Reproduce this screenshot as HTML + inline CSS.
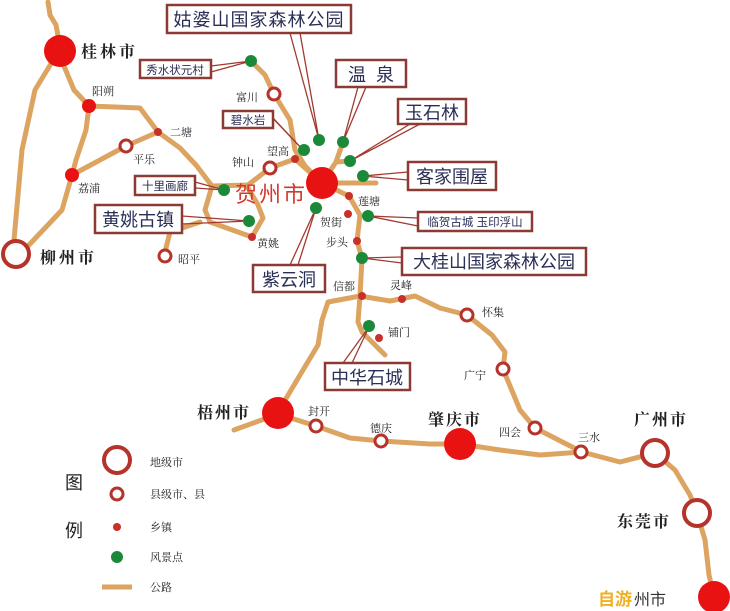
<!DOCTYPE html>
<html><head><meta charset="utf-8"><style>
html,body{margin:0;padding:0;background:#fff;}
svg{display:block;font-family:"Liberation Sans","Noto Sans CJK SC",sans-serif;}
.rd{fill:none;stroke:#dca460;stroke-width:5;stroke-linecap:round;stroke-linejoin:round;}
.ld{fill:none;stroke:#a33a30;stroke-width:1.3;}
.box{fill:#fff;stroke:#8c3a34;stroke-width:2.5;}
.bt{fill:#2a2f55;}
.sm{font-size:11px;fill:#222;font-family:"Noto Serif CJK SC","Noto Sans CJK SC",serif;}
.ring{fill:#fff;stroke:#b5332b;}
.red{fill:#e81212;}
.dot{fill:#c8302a;}
.g{fill:#1a8a3a;}
</style></head><body>
<svg width="730" height="611" viewBox="0 0 730 611" xmlns="http://www.w3.org/2000/svg">
<!-- roads -->
<path class="rd" d="M48,2 L50,15 L56,25 L58,36"/>
<path class="rd" d="M52,62 L35,90 L22,150 L14,240"/>
<path class="rd" d="M64,66 L74,90 L89,106 L140,108 L158,132 L180,148 L196,165 L212,186 L248,185 L270,168 L295,159 L322,183"/>
<path class="rd" d="M89,106 L86,130 L76,160 L72,175 L62,210 L28,246"/>
<path class="rd" d="M72,175 L100,160 L126,146 L158,132"/>
<path class="rd" d="M212,186 L205,210 L210,222 L252,237"/>
<path class="rd" d="M165,252 L170,232 L200,222"/>
<path class="rd" d="M248,188 L258,205 L263,218 L252,237"/>
<path class="rd" d="M251,61 L265,75 L274,94 L290,120 L295,150 L305,166 L322,183"/>
<path class="rd" d="M322,183 L336,162 L343,142"/>
<path class="rd" d="M336,162 L350,161"/>
<path class="rd" d="M322,183 L376,183"/>
<path class="rd" d="M322,183 L349,196 L360,215 L357,241 L362,258 L360,296 L358,322 L362,332 L385,355"/>
<path class="rd" d="M360,296 L328,302 L322,320 L318,345 L300,375 L278,412"/>
<path class="rd" d="M360,296 L390,301 L415,296 L440,308 L467,315 L492,335 L505,352 L503,369 L520,410 L535,428 L582,452"/>
<path class="rd" d="M234,430 L278,414 L316,426 L350,438 L381,441 L430,444 L460,444 L500,450 L540,455 L582,452 L620,462 L655,453 L675,470 L690,495 L697,513 L705,540 L709,575 L714,597"/>
<!-- leader lines -->
<g class="ld">
<path d="M211,66 L251,61 M211,72 L251,61"/>
<path d="M265,110 L304,151 M273,118 L304,151"/>
<path d="M195,182 L224,190 M195,188 L224,190"/>
<path d="M182,216 L249,221 M182,224 L249,221"/>
<path d="M290,33 L319,140 M300,33 L319,140"/>
<path d="M358,87 L343,142 M366,87 L343,142"/>
<path d="M410,124 L350,161 M420,124 L350,161"/>
<path d="M408,172 L363,176 M408,180 L363,176"/>
<path d="M418,218 L368,216 M418,226 L368,216"/>
<path d="M402,257 L362,258 M402,263 L362,258"/>
<path d="M290,265 L316,208 M298,265 L316,208"/>
<path d="M343,363 L369,327 M352,363 L369,327"/>
</g>
<!-- boxes -->
<rect class="box" x="167" y="5" width="184" height="28"/><text class="bt" x="259" y="26" font-size="18" text-anchor="middle" letter-spacing="1">姑婆山国家森林公园</text>
<rect class="box" x="336" y="60" width="70" height="27"/><text class="bt" x="371" y="81" font-size="18" text-anchor="middle" xml:space="preserve">温  泉</text>
<rect class="box" x="398" y="99" width="68" height="25"/><text class="bt" x="432" y="119" font-size="18" text-anchor="middle">玉石林</text>
<rect class="box" x="408" y="162" width="88" height="28"/><text class="bt" x="452" y="183" font-size="18" text-anchor="middle">客家围屋</text>
<rect class="box" x="418" y="212" width="114" height="19"/><text class="bt" x="475" y="226" font-size="11.5" text-anchor="middle">临贺古城 玉印浮山</text>
<rect class="box" x="402" y="248" width="184" height="27"/><text class="bt" x="494" y="268" font-size="18" text-anchor="middle">大桂山国家森林公园</text>
<rect class="box" x="253" y="265" width="72" height="27"/><text class="bt" x="289" y="286" font-size="18" text-anchor="middle">紫云洞</text>
<rect class="box" x="325" y="363" width="85" height="27"/><text class="bt" x="367" y="384" font-size="18" text-anchor="middle">中华石城</text>
<rect class="box" x="95" y="205" width="87" height="28"/><text class="bt" x="138" y="226" font-size="18" text-anchor="middle">黄姚古镇</text>
<rect class="box" x="135" y="176" width="60" height="19"/><text class="bt" x="165" y="190" font-size="11.5" text-anchor="middle">十里画廊</text>
<rect class="box" x="140" y="60" width="71" height="18"/><text class="bt" x="175" y="74" font-size="11.5" text-anchor="middle">秀水状元村</text>
<rect class="box" x="223" y="111" width="50" height="17"/><text class="bt" x="248" y="124" font-size="11.5" text-anchor="middle">碧水岩</text>
<!-- cities -->
<circle class="red" cx="60" cy="51" r="16"/>
<circle class="red" cx="322" cy="183" r="16"/>
<circle class="red" cx="278" cy="413" r="16"/>
<circle class="red" cx="460" cy="444" r="16"/>
<circle class="red" cx="714" cy="597" r="16"/>
<circle class="red" cx="89" cy="106" r="7"/>
<circle class="red" cx="72" cy="175" r="7"/>
<circle class="ring" cx="16" cy="254" r="13" stroke-width="4"/>
<circle class="ring" cx="655" cy="453" r="13" stroke-width="4"/>
<circle class="ring" cx="697" cy="513" r="13" stroke-width="4"/>
<g stroke-width="3">
<circle class="ring" cx="126" cy="146" r="6"/><circle class="ring" cx="270" cy="168" r="6"/>
<circle class="ring" cx="274" cy="94" r="6"/><circle class="ring" cx="165" cy="256" r="6"/>
<circle class="ring" cx="467" cy="315" r="6"/><circle class="ring" cx="503" cy="369" r="6"/>
<circle class="ring" cx="535" cy="428" r="6"/><circle class="ring" cx="581" cy="452" r="6"/>
<circle class="ring" cx="316" cy="426" r="6"/><circle class="ring" cx="381" cy="441" r="6"/>
</g>
<g>
<circle class="dot" cx="158" cy="132" r="4"/><circle class="dot" cx="295" cy="159" r="4"/>
<circle class="dot" cx="252" cy="237" r="4"/><circle class="dot" cx="349" cy="196" r="4"/>
<circle class="dot" cx="348" cy="214" r="4"/><circle class="dot" cx="357" cy="241" r="4"/>
<circle class="dot" cx="362" cy="296" r="4"/><circle class="dot" cx="402" cy="299" r="4"/>
<circle class="dot" cx="379" cy="338" r="4"/>
</g>
<g>
<circle class="g" cx="251" cy="61" r="6"/><circle class="g" cx="304" cy="150" r="6"/>
<circle class="g" cx="319" cy="140" r="6"/><circle class="g" cx="343" cy="142" r="6"/>
<circle class="g" cx="350" cy="161" r="6"/><circle class="g" cx="363" cy="176" r="6"/>
<circle class="g" cx="368" cy="216" r="6"/><circle class="g" cx="362" cy="258" r="6"/>
<circle class="g" cx="316" cy="208" r="6"/><circle class="g" cx="224" cy="190" r="6"/>
<circle class="g" cx="249" cy="221" r="6"/><circle class="g" cx="369" cy="326" r="6"/>
</g>
<!-- city labels -->
<g font-size="16" fill="#222" font-family="'Noto Serif CJK SC','Noto Sans CJK SC',serif" font-weight="bold">
<text x="81" y="57" letter-spacing="3">桂林市</text>
<text x="40" y="263" letter-spacing="3">柳州市</text>
<text x="197" y="418" letter-spacing="2">梧州市</text>
<text x="428" y="425" letter-spacing="2">肇庆市</text>
<text x="634" y="425" letter-spacing="2">广州市</text>
<text x="617" y="527" letter-spacing="2">东莞市</text>
</g>
<text x="235" y="202" font-size="22" fill="#d23a30" letter-spacing="2">贺州市</text>
<g class="sm">
<text x="92" y="95">阳朔</text><text x="170" y="136">二塘</text><text x="133" y="163">平乐</text>
<text x="78" y="192">荔浦</text><text x="232" y="166">钟山</text><text x="267" y="155">望高</text>
<text x="236" y="101">富川</text><text x="257" y="247">黄姚</text><text x="178" y="263">昭平</text>
<text x="320" y="226">贺街</text><text x="326" y="246">步头</text><text x="358" y="205">莲塘</text>
<text x="333" y="290">信都</text><text x="390" y="289">灵峰</text><text x="482" y="316">怀集</text>
<text x="388" y="336">铺门</text><text x="464" y="379">广宁</text><text x="308" y="415">封开</text>
<text x="370" y="432">德庆</text><text x="499" y="436">四会</text><text x="578" y="441">三水</text>
</g>
<!-- legend -->
<text x="65" y="489" font-size="18" fill="#222">图</text>
<text x="65" y="537" font-size="18" fill="#222">例</text>
<circle class="ring" cx="117" cy="460" r="13" stroke-width="4"/>
<circle class="ring" cx="117" cy="494" r="6" stroke-width="3"/>
<circle class="dot" cx="117" cy="527" r="4"/>
<circle class="g" cx="117" cy="557" r="6"/>
<line x1="102" y1="587" x2="132" y2="587" stroke="#dca460" stroke-width="5"/>
<g class="sm"><text x="150" y="466">地级市</text><text x="150" y="498">县级市、县</text><text x="150" y="531">乡镇</text><text x="150" y="561">风景点</text><text x="150" y="591">公路</text></g>
<text x="598" y="605" font-size="17" fill="#f0b020" font-weight="bold">自游</text>
<text x="634" y="605" font-size="16" fill="#333">州市</text>
</svg>
</body></html>
